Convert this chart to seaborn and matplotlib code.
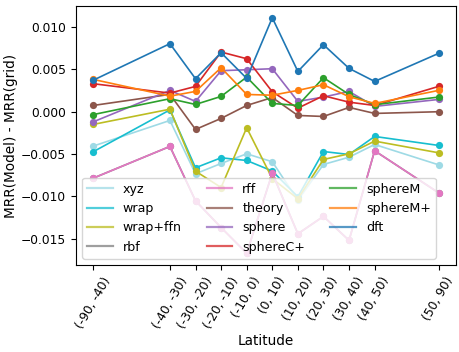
import numpy as np
import pandas as pd
import matplotlib
matplotlib.use("Agg")
import matplotlib.pyplot as plt
from matplotlib.lines import Line2D
import seaborn as sns

# latitude bins
lat_lo = [-90, -40, -30, -20, -10, 0, 10, 20, 30, 40, 50]
lat_hi = [-40, -30, -20, -10, 0, 10, 20, 30, 40, 50, 90]
tick_labels = [f"({a}, {b})" for a, b in zip(lat_lo, lat_hi)]

# MRR(Model) - MRR(grid) per bin
xyz = [-0.00406, -0.00103, -0.00733, -0.00611, -0.00497, -0.00591, -0.01045, -0.00623, -0.00537, -0.00387, -0.00627]
wrap = [-0.00473, 0.00022, -0.00662, -0.00544, -0.00576, -0.00700, -0.01005, -0.00470, -0.00505, -0.00292, -0.00398]
wrap_ffn = [-0.00150, 0.00030, -0.00702, -0.00895, -0.00189, -0.00790, -0.01028, -0.00564, -0.00497, -0.00347, -0.00485]
rff = [-0.00785, -0.00410, -0.01052, -0.01368, -0.01672, -0.00725, -0.01442, -0.01236, -0.01520, -0.00461, -0.00957]
rbf = list(rff)  # hidden under rff in the picture
theory = [0.00074, 0.00205, -0.00209, -0.00079, 0.00074, 0.00168, -0.00044, -0.00056, 0.00051, -0.00020, 0.00000]
sphere = [-0.00120, 0.00252, 0.00122, 0.00485, 0.00496, 0.00508, 0.00122, 0.00173, 0.00240, 0.00063, 0.00145]
sphereCp = [0.00331, 0.00220, 0.00299, 0.00705, 0.00626, 0.00236, 0.00042, 0.00189, 0.00113, 0.00074, 0.00299]
sphereM = [-0.00034, 0.00154, 0.00086, 0.00181, 0.00409, 0.00098, 0.00074, 0.00402, 0.00204, 0.00083, 0.00173]
sphereMp = [0.00382, 0.00184, 0.00240, 0.00520, 0.00204, 0.00195, 0.00252, 0.00319, 0.00177, 0.00098, 0.00252]
dft = [0.00372, 0.00804, 0.00390, 0.00697, 0.00394, 0.01110, 0.00476, 0.00792, 0.00512, 0.00358, 0.00689]

names = ["xyz", "wrap", "wrap+ffn", "rbf", "rff", "theory", "sphere", "sphereC+", "sphereM", "sphereM+", "dft"]
series = [xyz, wrap, wrap_ffn, rbf, rff, theory, sphere, sphereCp, sphereM, sphereMp, dft]
colors = ["#9edae5", "#17becf", "#bcbd22", "#7f7f7f", "#e377c2", "#8c564b",
          "#9467bd", "#d62728", "#2ca02c", "#ff7f0e", "#1f77b4"]

plt.rcParams['font.size'] = 8.8

mid = [(a + b) / 2 for a, b in zip(lat_lo, lat_hi)]

fig, ax = plt.subplots(figsize=(4.6, 3.52), dpi=100)
for name, vals, c in zip(names, series, colors):
    df = pd.DataFrame({'lat': mid, 'diff': vals})
    sns.lineplot(data=df, x='lat', y='diff', ax=ax, color=c, marker='o',
                 markersize=5.2, markeredgewidth=0, linewidth=1.2, legend=False)

ax.set_xticks(mid)
ax.set_xticklabels(tick_labels, rotation=60)
ax.set_xlabel('Latitude', fontsize=9.8, labelpad=2)
ax.set_ylabel('MRR(Model) - MRR(grid)', fontsize=9.8, labelpad=2)

handles = [Line2D([], [], color=c, alpha=0.75, linewidth=1.6) for c in colors]
ax.legend(handles, names, ncol=3, loc='lower left', fontsize=9.1)

fig.subplots_adjust(left=0.165, right=0.991, top=0.983, bottom=0.247)
fig.savefig('out.png', dpi=100)
